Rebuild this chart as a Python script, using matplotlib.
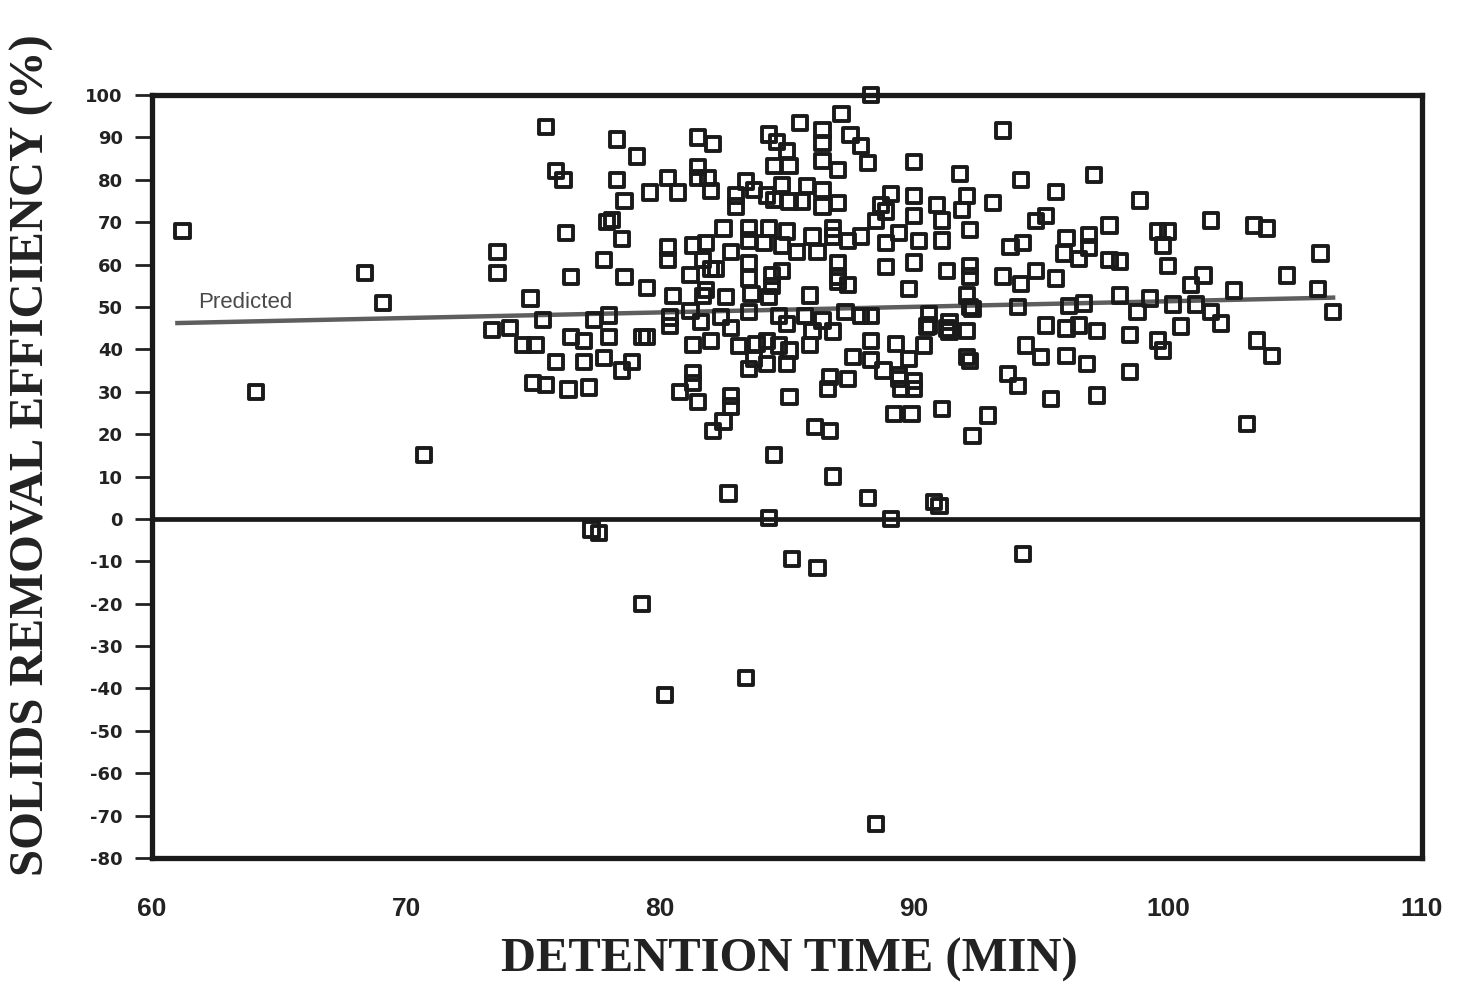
import matplotlib
matplotlib.use('Agg')
import matplotlib.pyplot as plt

# Data (detention time in min, removal efficiency in %)
detention_time = [
    61.2, 64.1, 68.4, 69.1, 70.7, 73.4, 73.6, 73.6, 74.1, 74.6, 74.9, 75.1, 75.0, 75.4, 75.5,
    75.5, 75.9, 75.9, 76.2, 76.3, 76.4, 76.5, 76.5, 77.0, 77.0, 77.2, 77.3, 77.6, 77.4, 77.8,
    77.8, 77.9, 78.0, 78.0, 78.1, 78.3, 78.3, 78.5, 78.5, 78.6, 78.6, 78.9, 79.1, 79.3, 79.3,
    79.5, 79.5, 79.6,
    80.2, 80.3, 80.3, 80.3, 80.4, 80.4, 80.5, 80.7, 80.8, 81.2, 81.2, 81.3, 81.3, 81.3, 81.3,
    81.5, 81.5, 81.5, 81.5, 81.6, 81.7, 81.7, 81.8, 81.8, 81.9, 82.0, 82.0, 82.0, 82.1, 82.1,
    82.2, 82.4, 82.5, 82.5, 82.6, 82.7, 82.8, 82.8, 82.8, 82.8,
    83.0, 83.0, 83.1, 83.4, 83.4, 83.5, 83.5, 83.5, 83.5, 83.5, 83.5, 83.6, 83.7, 83.7, 83.8,
    84.1, 84.2, 84.2, 84.2, 84.3, 84.3, 84.3, 84.3, 84.4, 84.4, 84.5, 84.5, 84.5, 84.6, 84.7,
    84.7, 84.8, 84.8, 84.8, 85.0, 85.0, 85.0, 85.0, 85.1, 85.1, 85.1, 85.1, 85.2, 85.4, 85.5,
    85.6, 85.7, 85.8, 85.9, 85.9, 86.0, 86.0, 86.1, 86.2, 86.2, 86.4, 86.4, 86.4, 86.4, 86.4,
    86.4, 86.6, 86.7, 86.7, 86.8, 86.8, 86.8, 86.8, 87.0, 87.0, 87.0, 87.0, 87.0, 87.15, 87.3,
    87.4, 87.4, 87.4, 87.5, 87.6, 87.9, 87.9, 87.9, 88.2, 88.2, 88.3, 88.3, 88.3, 88.3, 88.5,
    88.5, 88.7, 88.8, 88.9, 88.9, 88.9, 89.1, 89.1, 89.2, 89.3, 89.4, 89.4, 89.4, 89.5, 89.8,
    89.8, 89.9, 90.0, 90.0, 90.0, 90.0, 90.0, 90.0, 90.2, 90.4, 90.5, 90.6, 90.6, 90.9, 90.8,
    91.0, 91.1, 91.1, 91.1, 91.3, 91.3, 91.4, 91.4, 91.8, 91.9, 92.1, 92.1, 92.1, 92.1, 92.2,
    92.2, 92.2, 92.2, 92.2, 92.3, 92.3, 92.9, 93.1, 93.5, 93.5, 93.7, 93.8, 94.1, 94.1, 94.2,
    94.2, 94.3, 94.3, 94.4, 94.8, 94.8, 95.0, 95.2, 95.2, 95.4, 95.6, 95.6, 95.9, 96.0, 96.0,
    96.0, 96.1, 96.5, 96.5, 96.7, 96.8, 96.9, 96.9, 97.1, 97.2, 97.2, 97.7, 97.7, 98.1, 98.1,
    98.5, 98.5, 98.8, 98.9, 99.3, 99.6, 99.6, 99.8, 99.8, 100.0, 100.0, 100.2, 100.5, 100.9,
    101.1, 101.4, 101.7, 101.7, 102.1, 102.6, 103.1, 103.4, 103.5, 103.9, 104.1, 104.7, 105.9,
    106.0, 106.5,
]
efficiency = [
    68.0, 30.0, 58.0, 51.0, 15.0, 44.5, 63.0, 58.0, 45.0, 41.0, 52.0, 41.0, 32.0, 47.0, 31.5,
    92.5, 82.0, 37.0, 80.0, 67.5, 30.5, 57.0, 43.0, 42.0, 37.0, 31.0, -2.5, -3.3, 47.0, 61.0,
    38.0, 70.0, 48.0, 43.0, 70.5, 89.5, 80.0, 66.0, 35.0, 75.0, 57.0, 37.0, 85.5, 43.0, -20.0,
    54.5, 43.0, 77.0,
    -41.5, 80.5, 64.0, 61.0, 47.5, 45.5, 52.5, 77.0, 30.0, 57.5, 49.0, 64.5, 41.0, 34.5, 32.0,
    90.0, 83.0, 80.5, 27.5, 46.5, 61.0, 52.5, 54.0, 65.0, 80.5, 77.3, 42.0, 59.0, 88.5, 20.7,
    59.0, 47.7, 23.0, 68.5, 52.4, 6.0, 63.0, 45.0, 29.0, 26.5,
    76.3, 73.7, 40.7, 79.6, -37.5, 68.5, 65.7, 60.3, 56.7, 48.8, 35.4, 53.0, 77.5, 37.8, 41.3,
    65.0, 76.3, 42.0, 36.5, 90.7, 68.5, 52.4, 0.2, 57.4, 55.0, 83.2, 75.2, 15.0, 89.0, 47.9,
    40.9, 78.7, 64.5, 58.5, 86.8, 67.8, 46.0, 36.6, 83.2, 74.9, 39.7, 28.8, -9.5, 63.0, 93.4,
    74.9, 47.9, 78.5, 52.7, 41.0, 66.6, 44.4, 21.7, 63.0, -11.5, 91.8, 88.6, 84.4, 77.5, 73.7,
    46.8, 30.7, 33.5, 20.8, 68.5, 66.6, 44.2, 10.0, 82.3, 74.5, 60.3, 57.2, 56.0, 95.5, 48.8,
    65.5, 55.1, 33.0, 90.6, 38.2, 87.9, 66.6, 47.9, 83.9, 5.0, 100.0, 47.9, 42.0, 37.5, 70.2,
    -72.0, 74.0, 35.0, 65.0, 59.5, 72.5, 76.6, 0.0, 24.8, 41.3, 67.4, 34.0, 33.0, 30.7, 54.3,
    37.8, 24.8, 84.2, 76.1, 71.4, 60.5, 32.6, 30.7, 65.5, 40.9, 45.4, 48.4, 45.6, 74.0, 4.0,
    3.0, 70.4, 65.7, 25.9, 58.4, 44.9, 46.5, 44.2, 81.3, 72.8, 76.1, 52.7, 44.4, 38.2, 68.1,
    59.6, 57.2, 50.0, 37.3, 49.6, 19.6, 24.4, 74.5, 91.6, 57.2, 34.2, 64.2, 50.0, 31.4, 79.9,
    55.5, 65.0, -8.3, 40.9, 70.2, 58.4, 38.2, 71.4, 45.6, 28.3, 77.1, 56.7, 62.6, 66.2, 44.9,
    38.5, 50.3, 61.4, 45.6, 50.8, 36.6, 66.9, 64.0, 81.1, 44.4, 29.1, 69.2, 61.0, 60.7, 52.7,
    43.3, 34.7, 48.8, 75.1, 52.0, 67.8, 42.1, 64.5, 39.7, 67.8, 59.6, 50.6, 45.4, 55.1,
    50.6, 57.4, 70.4, 48.8, 46.1, 53.9, 22.4, 69.2, 42.1, 68.5, 38.5, 57.4, 54.3,
    62.6, 48.8,
]

# Predicted (regression) line end points
predicted_x = [61.0, 106.5]
predicted_y = [46.2, 52.2]

x_ticks = [60, 70, 80, 90, 100, 110]
y_ticks = list(range(-80, 101, 10))

fig = plt.figure(figsize=(14.6, 9.94), dpi=100)
ax = fig.add_axes([152 / 1460, 1 - 858 / 994, 1270 / 1460, 763 / 994])

ax.scatter(detention_time, efficiency, marker='s', s=105, facecolors='none',
           edgecolors='#1a1a1a', linewidths=2.8, zorder=3, clip_on=False)
ax.plot(predicted_x, predicted_y, color='#5e5e5e', lw=3.2, zorder=2)
ax.axhline(0, color='#1a1a1a', lw=3.4, zorder=2)
ax.text(61.8, 48.6, 'Predicted', fontsize=16, color='#4a4a4a',
        family='Liberation Sans', ha='left', va='bottom')

ax.set_xlim(60, 110)
ax.set_ylim(-80, 100)
ax.set_xticks(x_ticks)
ax.set_yticks(y_ticks)
ax.set_xticklabels([str(t) for t in x_ticks], fontsize=19, fontweight='bold',
                   family='Liberation Sans', color='#222222')
ax.set_yticklabels([str(t) for t in y_ticks], fontsize=13, fontweight='bold',
                   family='DejaVu Sans', color='#222222')
ax.tick_params(axis='x', length=0, pad=28)
ax.tick_params(axis='y', length=12, width=2, pad=9, color='#222222')

for side in ['left', 'right', 'top', 'bottom']:
    ax.spines[side].set_linewidth(3.8)
    ax.spines[side].set_color('#1a1a1a')

fig.text(32 / 1460, 1 - 455 / 994, 'SOLIDS REMOVAL EFFICIENCY (%)', rotation=90,
         ha='center', va='center', fontsize=35, fontweight='bold',
         family='Liberation Serif', color='#222222')
fig.text(789 / 1460, 1 - 960 / 994, 'DETENTION TIME (MIN)', ha='center', va='center',
         fontsize=35, fontweight='bold', family='Liberation Serif', color='#222222')

plt.savefig('out.png', dpi=100)
